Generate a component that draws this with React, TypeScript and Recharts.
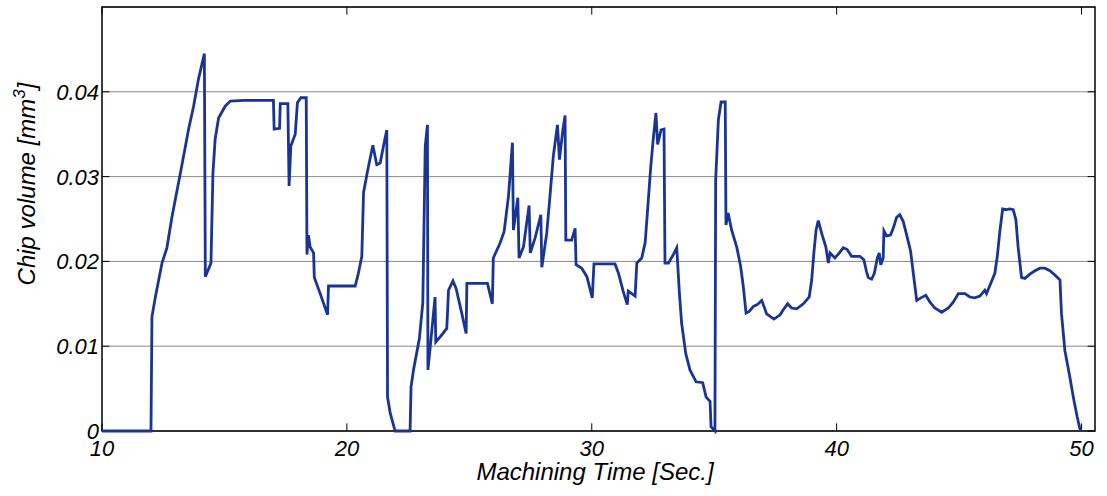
import { LineChart, Line, XAxis, YAxis, CartesianGrid, ReferenceArea, ReferenceLine } from 'recharts';

// Machining time [s] and matching chip volume [mm^3]
const time = [
  10, 12.0, 12.04, 12.18, 12.45, 12.65, 12.86, 13.2, 13.53, 13.74, 13.94, 14.18, 14.22, 14.45, 14.53, 14.62,
  14.76, 15.03, 15.24, 15.78, 17.0, 17.03, 17.25, 17.28, 17.59, 17.64, 17.71, 17.89, 17.98, 18.12, 18.34,
  18.37, 18.43, 18.5, 18.64, 18.67, 18.91, 19.21, 19.25, 20.34, 20.47, 20.61, 20.68, 20.84, 21.06, 21.22,
  21.36, 21.52, 21.63, 21.66, 21.77, 21.97, 22.58, 22.62, 22.72, 22.96, 23.1, 23.2, 23.29, 23.31, 23.43,
  23.6, 23.63, 23.81, 24.08, 24.15, 24.33, 24.46, 24.69, 24.87, 24.9, 25.74, 25.94, 25.98, 26.26, 26.42,
  26.6, 26.76, 26.8, 26.98, 27.03, 27.21, 27.44, 27.49, 27.69, 27.92, 27.96, 28.16, 28.27, 28.43, 28.6,
  28.68, 28.82, 28.91, 28.94, 29.18, 29.32, 29.36, 29.59, 29.8, 30.02, 30.09, 30.95, 31.09, 31.29, 31.45,
  31.49, 31.77, 31.84, 32.04, 32.18, 32.27, 32.41, 32.51, 32.62, 32.69, 32.83, 32.95, 32.99, 33.13, 33.33,
  33.47, 33.58, 33.67, 33.84, 34.01, 34.26, 34.53, 34.67, 34.83, 34.87, 35.03, 35.06, 35.17, 35.28, 35.45,
  35.48, 35.57, 35.71, 35.92, 36.08, 36.19, 36.3, 36.43, 36.6, 36.76, 36.94, 37.03, 37.14, 37.44, 37.69,
  37.82, 38.0, 38.16, 38.37, 38.64, 38.88, 38.98, 39.07, 39.16, 39.25, 39.39, 39.56, 39.66, 39.73, 39.93,
  40.11, 40.27, 40.43, 40.61, 40.75, 40.95, 41.11, 41.22, 41.29, 41.43, 41.54, 41.66, 41.74, 41.8, 41.9,
  41.93, 42.04, 42.2, 42.31, 42.45, 42.58, 42.72, 42.86, 43.02, 43.13, 43.27, 43.44, 43.64, 43.81, 44.01,
  44.29, 44.56, 44.76, 44.97, 45.24, 45.44, 45.64, 45.85, 46.05, 46.12, 46.29, 46.46, 46.56, 46.67, 46.78,
  46.94, 47.07, 47.21, 47.32, 47.41, 47.55, 47.69, 47.89, 48.1, 48.3, 48.5, 48.71, 48.91, 49.05, 49.12,
  49.18, 49.32, 49.52, 49.69, 49.82, 49.93, 49.98,
];

const volume = [
  0, 0, 0.0135, 0.0158, 0.0198, 0.0216, 0.0253, 0.0304, 0.0355, 0.0383, 0.0415, 0.0445, 0.0182, 0.0198, 0.0304, 0.0344,
  0.0369, 0.0383, 0.0389, 0.039, 0.039, 0.0356, 0.0357, 0.0386, 0.0386, 0.0289, 0.0336, 0.035, 0.0387, 0.0393, 0.0393,
  0.0208, 0.0231, 0.0217, 0.021, 0.0181, 0.0162, 0.0137, 0.0171, 0.0171, 0.0186, 0.0206, 0.0281, 0.0306, 0.0337, 0.0314,
  0.0316, 0.034, 0.0355, 0.004, 0.0021, 0, 0, 0.0052, 0.0072, 0.0109, 0.0151, 0.0336, 0.0361, 0.0072, 0.0107,
  0.0158, 0.0105, 0.0111, 0.0121, 0.0166, 0.0177, 0.0168, 0.0139, 0.0115, 0.0174, 0.0174, 0.015, 0.0204, 0.0222, 0.0235,
  0.0277, 0.034, 0.0237, 0.0275, 0.0204, 0.0217, 0.0266, 0.021, 0.0228, 0.0255, 0.0193, 0.0233, 0.0269, 0.0324, 0.0361,
  0.032, 0.0355, 0.0372, 0.0225, 0.0225, 0.0239, 0.0196, 0.0192, 0.0182, 0.0157, 0.0197, 0.0197, 0.0186, 0.0164, 0.0149,
  0.0165, 0.0159, 0.0198, 0.0204, 0.0222, 0.0257, 0.0312, 0.0344, 0.0375, 0.0338, 0.0355, 0.0356, 0.0198, 0.0198, 0.0208,
  0.0216, 0.0162, 0.0127, 0.0091, 0.0072, 0.0058, 0.0057, 0.004, 0.0035, 0.0005, 0, 0.0296, 0.0367, 0.0388, 0.0388,
  0.0243, 0.0257, 0.0237, 0.0217, 0.0194, 0.017, 0.0139, 0.0141, 0.0147, 0.0149, 0.0154, 0.0147, 0.0138, 0.0132, 0.0137,
  0.0143, 0.015, 0.0145, 0.0144, 0.015, 0.0158, 0.0178, 0.021, 0.0237, 0.0248, 0.0233, 0.0217, 0.0198, 0.021, 0.0204,
  0.021, 0.0216, 0.0214, 0.0206, 0.0206, 0.0206, 0.0202, 0.0188, 0.0181, 0.0179, 0.0186, 0.0204, 0.021, 0.0196, 0.0204,
  0.0236, 0.023, 0.0231, 0.0239, 0.0252, 0.0255, 0.0247, 0.0231, 0.0212, 0.0186, 0.0154, 0.0157, 0.016, 0.0152, 0.0145,
  0.014, 0.0145, 0.0152, 0.0162, 0.0162, 0.0158, 0.0157, 0.0159, 0.0166, 0.0162, 0.0174, 0.0186, 0.0206, 0.0237, 0.0262,
  0.0261, 0.0262, 0.0261, 0.0249, 0.0217, 0.0181, 0.018, 0.0185, 0.0189, 0.0192, 0.0192, 0.0189, 0.0184, 0.018, 0.0178,
  0.0139, 0.0095, 0.0064, 0.0036, 0.0017, 0.0003, 0,
];

const xTicks = [10, 20, 30, 40, 50];
const yTicks = [0, 0.01, 0.02, 0.03, 0.04];

const X_MIN = 10;
const X_MAX = 50.55;
const Y_MAX = 0.05;

const data = time.map((t, i) => ({ t, v: volume[i] }));

const font = '"Liberation Sans", Arial, Helvetica, sans-serif';

const XTick = ({ x, y, payload }: any) => (
  <text x={x} y={y + 25} textAnchor="middle" fontSize={22} fontStyle="italic" fontFamily={font} fill="#000">
    {payload.value}
  </text>
);

const YTick = ({ x, y, payload }: any) => (
  <text x={x - 3} y={y + 8} textAnchor="end" fontSize={22} fontStyle="italic" fontFamily={font} fill="#000">
    {payload.value === 0 ? '0' : payload.value.toFixed(2)}
  </text>
);

const tickLen = { x: 0.3, y: 0.0009 };

export default function App() {
  return (
    <div style={{ position: 'absolute', left: 0, top: 0, width: 1107, height: 496, background: '#fff' }}>
      <LineChart width={1107} height={496} data={data} margin={{ top: 7, right: 12, bottom: 0, left: 0 }}>
        <CartesianGrid vertical={false} stroke="#8a8a8a" strokeWidth={1} />
        <XAxis
          dataKey="t"
          type="number"
          domain={[X_MIN, X_MAX]}
          ticks={xTicks}
          allowDataOverflow
          axisLine={false}
          tickLine={false}
          tickSize={0}
          tickMargin={0}
          height={65}
          tick={<XTick />}
        />
        <YAxis
          type="number"
          domain={[0, Y_MAX]}
          ticks={yTicks}
          axisLine={false}
          tickLine={false}
          tickSize={0}
          tickMargin={0}
          width={102}
          tick={<YTick />}
        />
        {/* small inward tick marks on all four sides */}
        {yTicks.map((v) => (
          <ReferenceLine key={'yl' + v} segment={[{ x: X_MIN, y: v }, { x: X_MIN + tickLen.x, y: v }]} stroke="#000" strokeWidth={1} />
        ))}
        {yTicks.map((v) => (
          <ReferenceLine key={'yr' + v} segment={[{ x: X_MAX - tickLen.x, y: v }, { x: X_MAX, y: v }]} stroke="#000" strokeWidth={1} />
        ))}
        {xTicks.map((v) => (
          <ReferenceLine key={'xb' + v} segment={[{ x: v, y: 0 }, { x: v, y: tickLen.y }]} stroke="#000" strokeWidth={1} />
        ))}
        {xTicks.map((v) => (
          <ReferenceLine key={'xt' + v} segment={[{ x: v, y: Y_MAX - tickLen.y }, { x: v, y: Y_MAX }]} stroke="#000" strokeWidth={1} />
        ))}
        <ReferenceArea x1={X_MIN} x2={X_MAX} y1={0} y2={Y_MAX} fill="none" stroke="#000" strokeWidth={1.5} />
        <Line
          type="linear"
          dataKey="v"
          stroke="#1a3496"
          strokeWidth={2.8}
          dot={false}
          isAnimationActive={false}
        />
      </LineChart>
      <svg width={1107} height={496} style={{ position: 'absolute', left: 0, top: 0, pointerEvents: 'none' }}>
        <text x={595} y={480} textAnchor="middle" fontSize={24} fontStyle="italic" fontFamily={font} fill="#000">
          Machining Time [Sec.]
        </text>
        <text
          transform="translate(35,184) rotate(-90)"
          textAnchor="middle"
          fontSize={24}
          fontStyle="italic"
          fontFamily={font}
          fill="#000"
        >
          Chip volume [mm
          <tspan dy={-10} fontSize={17}>3</tspan>
          <tspan dy={10}>]</tspan>
        </text>
      </svg>
    </div>
  );
}
